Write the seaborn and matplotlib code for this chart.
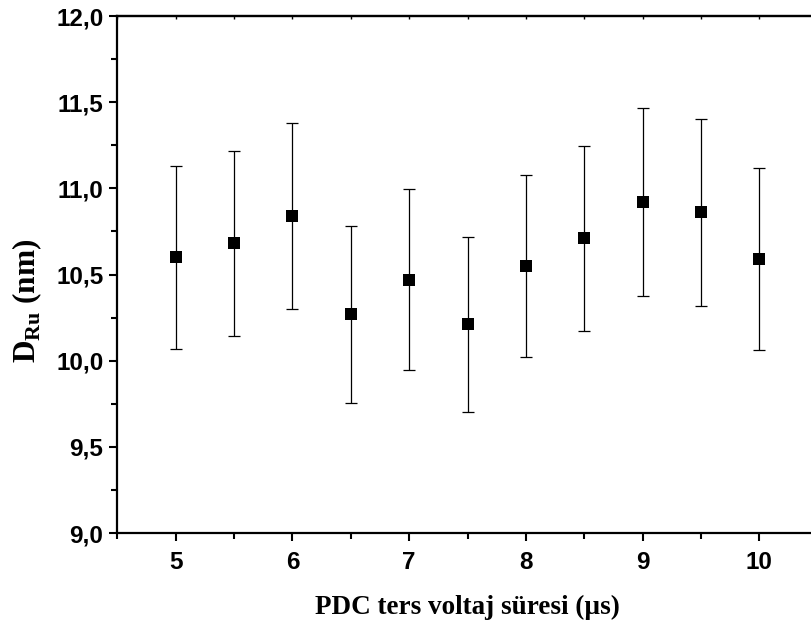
import matplotlib
matplotlib.use('Agg')
import matplotlib.pyplot as plt
import pandas as pd
import seaborn as sns
from matplotlib.ticker import MultipleLocator, FormatStrFormatter, FuncFormatter

# values
sure = [5.0, 5.5, 6.0, 6.5, 7.0, 7.5, 8.0, 8.5, 9.0, 9.5, 10.0]
d_ru = [10.60, 10.68, 10.84, 10.27, 10.47, 10.21, 10.55, 10.71, 10.92, 10.86, 10.59]
hata = [0.532, 0.534, 0.542, 0.514, 0.525, 0.510, 0.528, 0.536, 0.546, 0.543, 0.529]

df = pd.DataFrame({'sure': sure, 'd_ru': d_ru, 'hata': hata})

sns.set_style('ticks')
plt.rcParams['font.family'] = ['Liberation Sans', 'DejaVu Sans']
plt.rcParams['mathtext.fontset'] = 'custom'
plt.rcParams['mathtext.rm'] = 'Liberation Serif:bold'
plt.rcParams['mathtext.bf'] = 'Liberation Serif:bold'
plt.rcParams['text.color'] = 'black'
plt.rcParams['axes.labelcolor'] = 'black'
plt.rcParams['xtick.color'] = 'black'
plt.rcParams['ytick.color'] = 'black'

fig = plt.figure(figsize=(8.11, 6.31), dpi=100)
ax = fig.add_axes([0.1447, 0.1553, 0.8636, 0.8193])

ax.errorbar(df['sure'], df['d_ru'], yerr=df['hata'], fmt='none',
            ecolor='black', elinewidth=0.9, capsize=4, capthick=0.9, zorder=2)
sns.scatterplot(data=df, x='sure', y='d_ru', marker='s', s=80, color='black',
                edgecolor='black', linewidth=0, ax=ax, zorder=3)

ax.set_xlim(4.5, 10.5)
ax.set_ylim(9.0, 12.0)
ax.xaxis.set_major_locator(MultipleLocator(1))
ax.xaxis.set_minor_locator(MultipleLocator(0.5))
ax.yaxis.set_major_locator(MultipleLocator(0.5))
ax.yaxis.set_minor_locator(MultipleLocator(0.25))
ax.xaxis.set_major_formatter(FormatStrFormatter('%d'))
ax.yaxis.set_major_formatter(FuncFormatter(lambda v, p: f'{v:.1f}'.replace('.', ',')))

for s in ax.spines.values():
    s.set_linewidth(1.6)
    s.set_color('black')

ax.tick_params(axis='both', which='major', direction='out', length=6, width=1.5,
               labelsize=17.5, colors='black', pad=4)
ax.tick_params(axis='x', which='major', pad=7)
ax.tick_params(axis='both', which='minor', direction='out', length=4, width=1.5)
ax.tick_params(axis='x', which='both', top=False)
for t in ax.get_xticklabels() + ax.get_yticklabels():
    t.set_fontweight('bold')

# top axis ticks point inward and are short
ax2 = ax.secondary_xaxis('top')
ax2.set_xticks([5, 6, 7, 8, 9, 10])
ax2.xaxis.set_minor_locator(MultipleLocator(0.5))
ax2.tick_params(which='both', direction='in', length=2, width=1, labeltop=False)
ax2.spines['top'].set_linewidth(1.6)

ax.set_xlabel('PDC ters voltaj süresi (µs)', fontfamily='Liberation Serif',
              fontweight='bold', fontsize=19.5)
ax.set_ylabel('D$_{\\mathrm{Ru}}$ (nm)', fontfamily='Liberation Serif',
              fontweight='bold', fontsize=22.5)
ax.xaxis.set_label_coords(0.50, -0.12)
ax.yaxis.set_label_coords(-0.105, 0.45)

fig.savefig('out.png', dpi=100)
